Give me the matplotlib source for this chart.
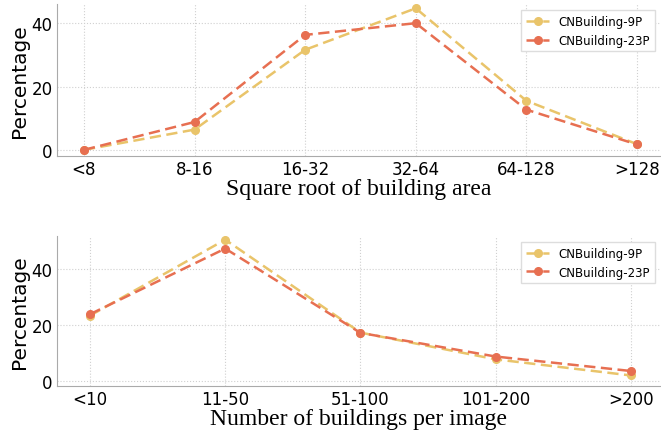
import matplotlib
matplotlib.use("Agg")
import matplotlib.pyplot as plt

# top panel: square root of building area
area_bins = ["<8", "8-16", "16-32", "32-64", "64-128", ">128"]
area_9p = [0.0, 6.4, 31.6, 44.7, 15.5, 1.8]
area_23p = [0.0, 8.8, 36.3, 40.0, 12.7, 1.7]

# bottom panel: number of buildings per image
count_bins = ["<10", "11-50", "51-100", "101-200", ">200"]
count_9p = [23.4, 50.7, 17.3, 7.7, 1.9]
count_23p = [23.9, 47.5, 17.2, 8.7, 3.5]

c9 = "#E9C46A"
c23 = "#E76F51"

fig = plt.figure(figsize=(6.61, 4.31), dpi=100)
ax1 = fig.add_axes([0.086, 0.636, 0.914, 0.352])
ax2 = fig.add_axes([0.086, 0.102, 0.914, 0.348])


def style(ax, labels, v9, v23, xlabel, xlim, ylim):
    x = list(range(len(labels)))
    ax.plot(x, v9, linestyle=(0, (4.5, 2.2)), marker="o", color=c9, lw=1.8, ms=5.5, label="CNBuilding-9P")
    ax.plot(x, v23, linestyle=(0, (4.5, 2.2)), marker="o", color=c23, lw=1.8, ms=5.5, label="CNBuilding-23P")
    ax.set_xticks(x)
    ax.set_xticklabels(labels)
    ax.set_xlim(*xlim)
    ax.set_ylim(*ylim)
    ax.set_yticks([0, 20, 40])
    ax.grid(True, linestyle=":", color="#d0d0d0", lw=0.8)
    ax.set_axisbelow(True)
    for s in ["top", "right"]:
        ax.spines[s].set_visible(False)
    for s in ["left", "bottom"]:
        ax.spines[s].set_color("#aaaaaa")
    ax.tick_params(axis="both", labelsize=12, length=0, pad=3)
    ax.set_ylabel("Percentage", fontsize=14.5, labelpad=2)
    ax.set_xlabel(xlabel, fontsize=17, family="Liberation Serif", labelpad=0)
    ax.legend(loc="upper right", fontsize=8.5, frameon=True, framealpha=1,
              edgecolor="#dddddd", fancybox=False)


style(ax1, area_bins, area_9p, area_23p, "Square root of building area",
      (-0.245, 5.217), (-1.9, 46.0))
style(ax2, count_bins, count_9p, count_23p, "Number of buildings per image",
      (-0.245, 4.222), (-1.9, 52.0))

fig.savefig("out.png", dpi=100)
